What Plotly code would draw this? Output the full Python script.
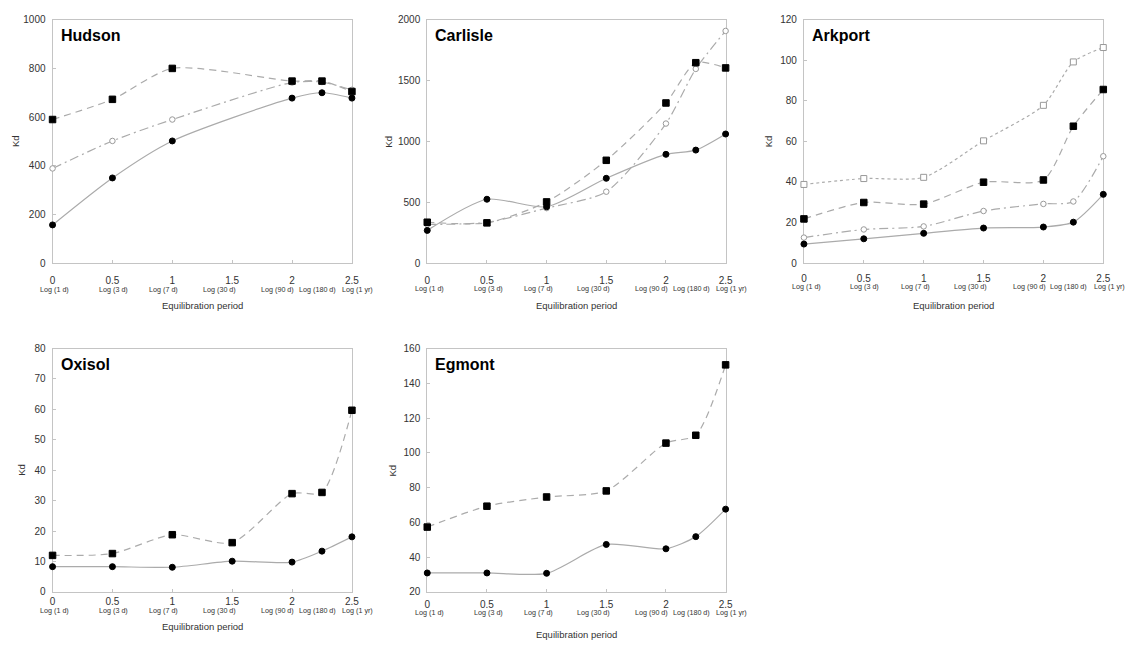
import plotly.graph_objects as go

# ---------------- data ----------------
X_ALL = [0, 0.5, 1, 1.5, 2, 2.25, 2.5]
X_HUDSON = [0, 0.5, 1, 2, 2.25, 2.5]

LOG_TEXT = ["Log (1 d)", "Log (3 d)", "Log (7 d)", "Log (30 d)", "Log (90 d)", "Log (180 d)", "Log (1 yr)"]

HUD_FC = [157, 350, 502, 678, 700, 678]
HUD_FS = [590, 673, 800, 748, 748, 705]
HUD_OC = [389, 502, 590, 742, 744, 712]

CAR_FC = [269, 525, 463, 697, 894, 929, 1061]
CAR_FS = [336, 331, 503, 845, 1316, 1647, 1604]
CAR_OC = [318, 335, 452, 587, 1147, 1596, 1908]

ARK_FC = [9.4, 12, 14.7, 17.3, 17.8, 20.2, 33.9]
ARK_FS = [21.8, 29.9, 29.1, 39.9, 41, 67.5, 85.6]
ARK_OC = [12.6, 16.6, 18.1, 25.7, 29.2, 30.4, 52.7]
ARK_OS = [38.8, 41.7, 42.3, 60.3, 77.8, 99.2, 106.3]

OXI_FC = [8.3, 8.3, 8.1, 10.1, 9.8, 13.4, 18.1]
OXI_FS = [12.0, 12.6, 18.8, 16.2, 32.3, 32.7, 59.7]

EGM_FC = [30.9, 30.9, 30.7, 47.3, 44.8, 51.8, 67.6]
EGM_FS = [57.3, 69.3, 74.6, 78.1, 105.6, 110.1, 150.6]

PANEL_NAMES = ["Hudson", "Carlisle", "Arkport", "Oxisol", "Egmont"]
Y_RANGES = [[0, 1000], [0, 2000], [0, 120], [0, 80], [20, 160]]
Y_DTICKS = [200, 500, 20, 10, 20]

# ---------------- styling / layout ----------------
W, H = 1142, 646
LINE_C = "#ababab"
FRAME_C = "#c4c4c4"
TXT_C = "#333333"
FONT = "Liberation Sans, Arial, sans-serif"
X_MAX = 2.5

# where the small "Log (...)" captions sit along each x axis (axis units)
LOG_LABEL_X = [0.02, 0.51, 0.93, 1.39, 1.88, 2.21, 2.55]

# pixel boxes (left, right, top, bottom)
BOXES = [
    (50, 352, 14, 262),
    (428, 729, 14, 262),
    (808, 1110, 14, 262),
    (50, 352, 349, 597),
    (428, 729, 349, 597),
]
KD_SHIFT = [-37, -39, -35, -31, -35]
TICK_STANDOFF = [8, 8, 6, 0, 3]
LOG_OFFSET = [26.5, 25.5, 24, 18.5, 20.5]
XTITLE_OFFSET = [43, 43, 43, 35, 43]

STYLES = {
    "fc": dict(dash="solid", symbol="circle", size=6, fill="black", edge="black"),
    "fs": dict(dash="7px,5px", symbol="square", size=6.5, fill="black", edge="black"),
    "oc": dict(dash="9px,4px,2px,4px", symbol="circle", size=5.5, fill="white", edge="#999999"),
    "os": dict(dash="3px,3px", symbol="square", size=6, fill="white", edge="#999999"),
}

PANEL_SERIES = [
    [("oc", X_HUDSON, HUD_OC), ("fc", X_HUDSON, HUD_FC), ("fs", X_HUDSON, HUD_FS)],
    [("oc", X_ALL, CAR_OC), ("fc", X_ALL, CAR_FC), ("fs", X_ALL, CAR_FS)],
    [("os", X_ALL, ARK_OS), ("oc", X_ALL, ARK_OC), ("fc", X_ALL, ARK_FC), ("fs", X_ALL, ARK_FS)],
    [("fc", X_ALL, OXI_FC), ("fs", X_ALL, OXI_FS)],
    [("fc", X_ALL, EGM_FC), ("fs", X_ALL, EGM_FS)],
]

fig = go.Figure()
annotations = []
layout_axes = {}

for i, (name, yr, dt, box, series) in enumerate(zip(PANEL_NAMES, Y_RANGES, Y_DTICKS, BOXES, PANEL_SERIES)):
    n = i + 1
    xa = "x" if n == 1 else f"x{n}"
    ya = "y" if n == 1 else f"y{n}"
    l, r, t, b = box
    dom_x = [l / W, r / W]
    dom_y = [(H - b) / H, (H - t) / H]

    for key, xs, ys in series:
        s = STYLES[key]
        fig.add_trace(go.Scatter(
            x=xs, y=ys, xaxis=xa, yaxis=ya, mode="lines",
            line=dict(color=LINE_C, width=1.2, dash=s["dash"], shape="spline", smoothing=0.7),
            showlegend=False, hoverinfo="skip", cliponaxis=False,
        ))
    for key, xs, ys in series:
        s = STYLES[key]
        fig.add_trace(go.Scatter(
            x=xs, y=ys, xaxis=xa, yaxis=ya, mode="markers",
            marker=dict(symbol=s["symbol"], size=s["size"], color=s["fill"],
                        line=dict(color=s["edge"], width=1)),
            showlegend=False, cliponaxis=False,
        ))

    axis_common = dict(showgrid=False, zeroline=False, showline=True, mirror=True,
                       linecolor=FRAME_C, linewidth=1, ticks="inside", ticklen=3,
                       tickcolor=FRAME_C, layer="below traces",
                       tickfont=dict(family=FONT, size=10, color=TXT_C))
    layout_axes["xaxis" if n == 1 else f"xaxis{n}"] = dict(
        domain=dom_x, anchor=ya, range=[0, X_MAX], tickvals=[0, 0.5, 1, 1.5, 2, 2.5],
        ticktext=["0", "0.5", "1", "1.5", "2", "2.5"], ticklabelstandoff=TICK_STANDOFF[i],
        **axis_common)
    layout_axes["yaxis" if n == 1 else f"yaxis{n}"] = dict(
        domain=dom_y, anchor=xa, range=yr, dtick=dt, tick0=0, ticklabelstandoff=4, **axis_common)

    ph = b - t
    # panel title
    annotations.append(dict(text=f"<b>{name}</b>", xref=f"{xa} domain", yref=f"{ya} domain",
                            x=0.02, y=1 - 16 / ph, xanchor="left", yanchor="middle",
                            showarrow=False, font=dict(family=FONT, size=16, color="black")))
    # log sublabels
    for pos, txt in zip(LOG_LABEL_X, LOG_TEXT):
        annotations.append(dict(text=txt, xref=f"{xa} domain", yref=f"{ya} domain",
                                x=pos / X_MAX, y=-LOG_OFFSET[i] / ph,
                                xanchor="center", yanchor="middle", showarrow=False,
                                font=dict(family=FONT, size=7.2, color=TXT_C)))
    # x title
    annotations.append(dict(text="Equilibration period", xref=f"{xa} domain", yref=f"{ya} domain",
                            x=0.5, y=-XTITLE_OFFSET[i] / ph, xanchor="center", yanchor="middle",
                            showarrow=False, font=dict(family=FONT, size=9.5, color=TXT_C)))
    # y title
    annotations.append(dict(text="Kd", xref=f"{xa} domain", yref=f"{ya} domain",
                            x=0, y=0.5, xshift=KD_SHIFT[i], xanchor="center", yanchor="middle",
                            textangle=-90, showarrow=False,
                            font=dict(family=FONT, size=9.5, color=TXT_C)))

fig.update_layout(
    width=W, height=H, margin=dict(l=0, r=0, t=0, b=0),
    paper_bgcolor="white", plot_bgcolor="white",
    annotations=annotations, **layout_axes,
)

fig.write_html("out.html")
